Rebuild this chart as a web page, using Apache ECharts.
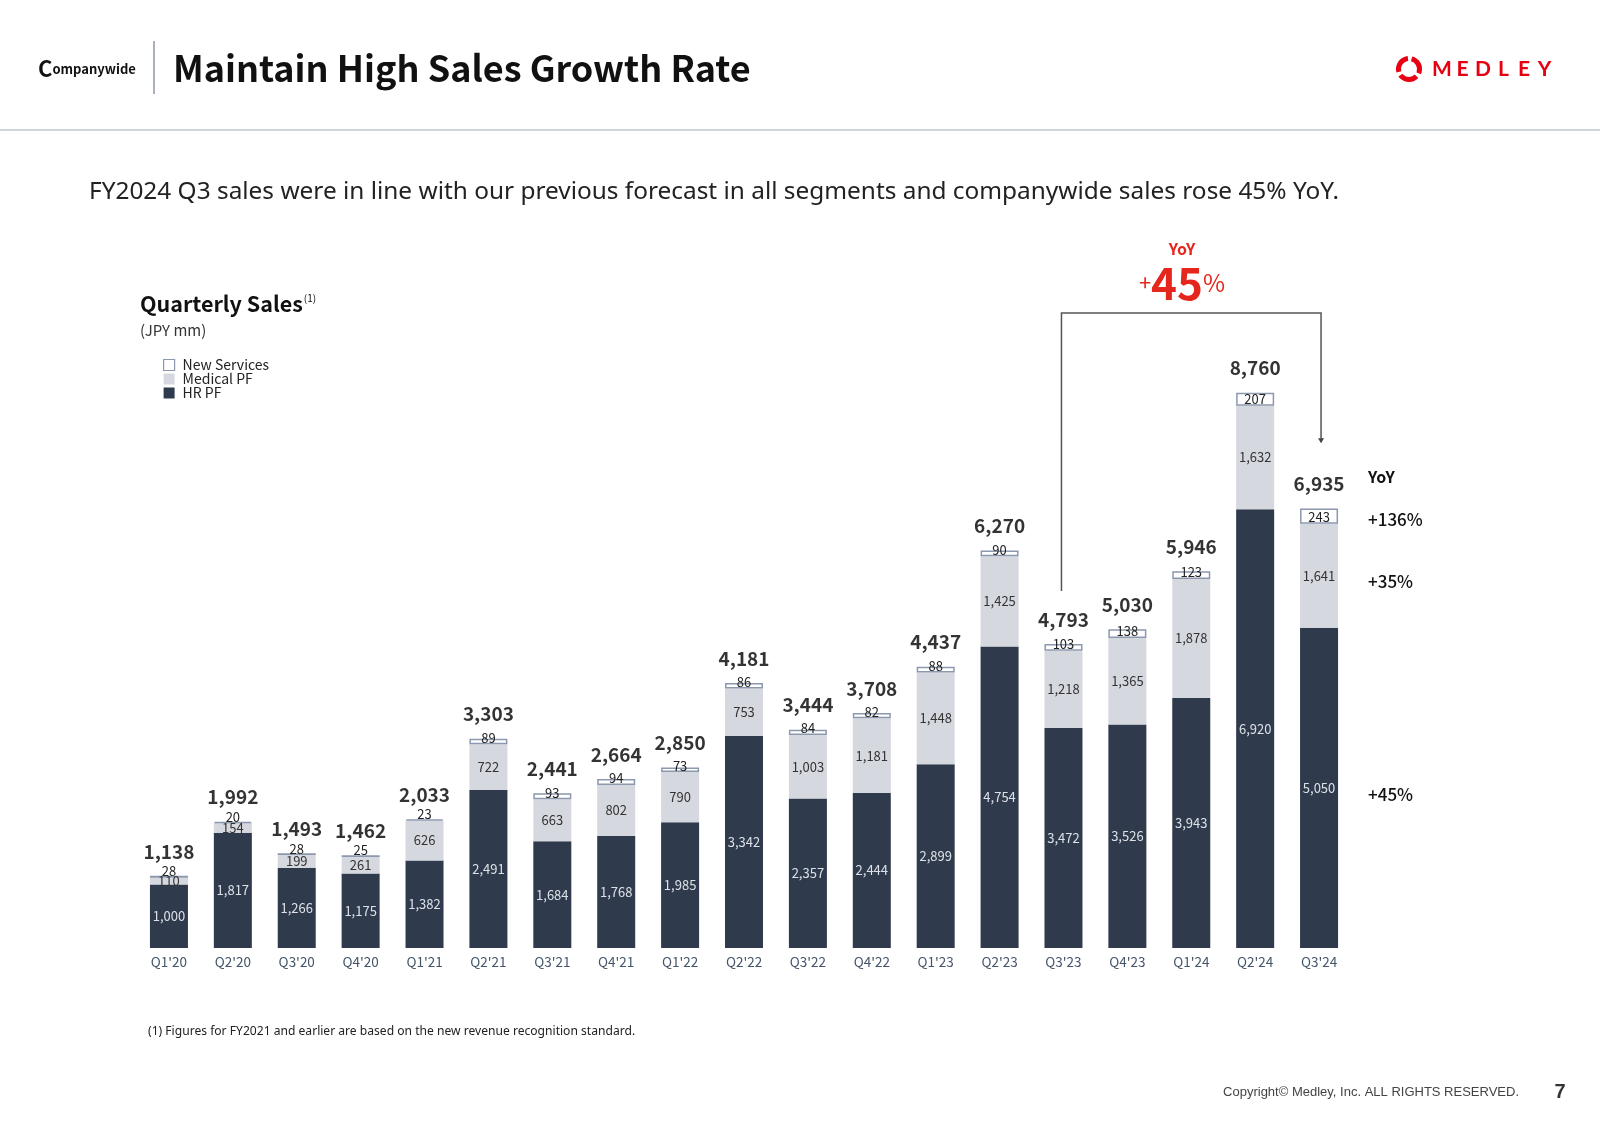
<!DOCTYPE html>
<html><head><meta charset="utf-8">
<script src="https://cdn.jsdelivr.net/npm/echarts@6/dist/echarts.min.js"></script>
<style>html,body{margin:0;padding:0;background:#fff}#c{width:1600px;height:1131px}</style>
</head><body><div id="c"></div>
<script>
const categories = ["Q1'20","Q2'20","Q3'20","Q4'20","Q1'21","Q2'21","Q3'21","Q4'21","Q1'22","Q2'22","Q3'22","Q4'22","Q1'23","Q2'23","Q3'23","Q4'23","Q1'24","Q2'24","Q3'24"];
const hrPF = [1000,1817,1266,1175,1382,2491,1684,1768,1985,3342,2357,2444,2899,4754,3472,3526,3943,6920,5050];
const medicalPF = [110,154,199,261,626,722,663,802,790,753,1003,1181,1448,1425,1218,1365,1878,1632,1641];
const newServices = [28,20,28,25,23,89,93,94,73,86,84,82,88,90,103,138,123,207,243];
const totals = [1138,1992,1493,1462,2033,3303,2441,2664,2850,4181,3444,3708,4437,6270,4793,5030,5946,8760,6935];
const yoySegments = ['+136%','+35%','+45%'];
const yoyHeadline = '45';

const FONT = '"Noto Sans CJK JP","Noto Sans",sans-serif';
const WIDE = '"Noto Sans","Noto Sans CJK JP",sans-serif';
const NAVY = '#2f3a4c', LIGHT = '#d5d8df', NSBORDER = '#8b98ae', RED = '#e5261c';
const fmt = v => Number(v).toLocaleString('en-US');

const chart = echarts.init(document.getElementById('c'));
chart.setOption({
  backgroundColor: '#fff',
  animation: false,
  textStyle: {fontFamily: FONT},
  grid: {left: 137, right: 249, top: 314, bottom: 183},
  xAxis: {type: 'category', data: categories, axisLine: {show: false}, axisTick: {show: false},
    axisLabel: {color: '#44546a', fontSize: 13.5, margin: 7, fontFamily: FONT}},
  yAxis: {type: 'value', min: 0, max: 10000, show: false},
  legend: {
    orient: 'vertical', left: 163, top: 358, itemWidth: 11, itemHeight: 11, itemGap: 0, padding: 0,
    textStyle: {fontSize: 14, color: '#222', fontFamily: FONT, padding: [0,0,0,3], lineHeight: 14},
    data: [
      {name: 'New Services', icon: 'rect', itemStyle: {color: '#fff', borderColor: NSBORDER, borderWidth: 1.2}},
      {name: 'Medical PF', icon: 'rect'},
      {name: 'HR PF', icon: 'rect'}
    ]
  },
  series: [
    {name: 'HR PF', type: 'bar', stack: 's', barWidth: 38, data: hrPF,
      itemStyle: {color: NAVY},
      label: {show: true, position: 'inside', color: '#dde1e8', fontSize: 13, fontFamily: FONT, formatter: p => fmt(p.value)}},
    {name: 'Medical PF', type: 'bar', stack: 's', barWidth: 38, data: medicalPF,
      itemStyle: {color: LIGHT},
      label: {show: true, position: 'inside', color: '#333', fontSize: 13, fontFamily: FONT, formatter: p => fmt(p.value)}},
    {name: 'New Services', type: 'bar', stack: 's', barWidth: 38, data: newServices,
      itemStyle: {color: '#fff', borderColor: NSBORDER, borderWidth: 1.5},
      label: {show: true, position: 'insideBottom', distance: 0, color: '#222', fontSize: 13, fontFamily: FONT, formatter: p => fmt(p.value)}},
    {name: 'Total', type: 'scatter', data: totals, symbolSize: 0, silent: true,
      label: {show: true, position: 'top', distance: 15, color: '#000', fontSize: 19, fontWeight: 'bold', fontFamily: FONT, formatter: p => fmt(p.value)}}
  ]
});

const px = i => chart.convertToPixel({xAxisIndex: 0}, i);
const py = v => chart.convertToPixel({yAxisIndex: 0}, v);
const last = categories.length - 1;
const ref = last - 4;
const lx = px(ref) - 2, rx = px(last) + 2;
const topY = 313;
const leftBottom = py(totals[ref]) - 53;
const arrowY = py(totals[last]) - 66;

const g = [];
// header
g.push({type: 'text', style: {x: 38, y: 69, rich: {C: {fontSize: 22, fontWeight: 'bold', fill: '#111', fontFamily: FONT}, r: {fontSize: 13, fontWeight: 'bold', fill: '#111', fontFamily: FONT}}, text: '{C|C}{r|ompanywide}', verticalAlign: 'middle', align: 'left'}});
g.push({type: 'line', shape: {x1: 154, y1: 41, x2: 154, y2: 94}, style: {stroke: '#8c96a8', lineWidth: 1.5}});
g.push({type: 'text', style: {x: 173, y: 68, text: 'Maintain High Sales Growth Rate', font: 'bold 36px ' + FONT, fill: '#111', verticalAlign: 'middle', align: 'left'}});
g.push({type: 'line', shape: {x1: 0, y1: 130, x2: 1600, y2: 130}, style: {stroke: '#cfd3da', lineWidth: 2}});
// logo
for (let k = 0; k < 3; k++) {
  const a0 = -Math.PI / 2 + k * 2 * Math.PI / 3 + 0.25;
  g.push({type: 'arc', shape: {cx: 1409, cy: 69, r: 10.5, startAngle: a0, endAngle: a0 + 2 * Math.PI / 3 - 0.35}, style: {stroke: '#e60012', lineWidth: 5, fill: null}});
}
const logo = 'MEDLEY';
for (let k = 0; k < logo.length; k++) {
  g.push({type: 'text', style: {x: 1442 + k * 20.5, y: 69, text: logo[k], font: 'bold 21px Lato, "Noto Sans", sans-serif', fill: '#e60012', verticalAlign: 'middle', align: 'center'}});
}
// subtitle
g.push({type: 'text', style: {x: 89, y: 192, text: 'FY2024 Q3 sales were in line with our previous forecast in all segments and companywide sales rose 45% YoY.', font: '24.4px ' + WIDE, fill: '#222', verticalAlign: 'middle', align: 'left'}});
// chart title
g.push({type: 'text', style: {x: 140, y: 304, text: '{a|Quarterly Sales}{s|(1)}', rich: {a: {fontSize: 21.5, fontWeight: 'bold', fill: '#111', fontFamily: FONT}, s: {fontSize: 10, fill: '#111', fontFamily: FONT, verticalAlign: 'top', padding: [0,0,12,1]}}, verticalAlign: 'middle', align: 'left'}});
g.push({type: 'text', style: {x: 140, y: 330, text: '(JPY mm)', font: '15px ' + FONT, fill: '#333', verticalAlign: 'middle', align: 'left'}});
// bracket
g.push({type: 'polyline', shape: {points: [[lx, leftBottom], [lx, topY], [rx, topY], [rx, arrowY - 3]]}, style: {stroke: '#555', lineWidth: 1.5, fill: null}});
g.push({type: 'polygon', shape: {points: [[rx - 3, arrowY - 4], [rx + 3, arrowY - 4], [rx, arrowY + 1]]}, style: {fill: '#444'}});
// YoY headline
g.push({type: 'text', style: {x: 1182, y: 249, text: 'YoY', font: 'bold 16px ' + FONT, fill: RED, verticalAlign: 'middle', align: 'center'}});
g.push({type: 'text', style: {x: 1182, y: 283, text: '{p|+}{n|' + yoyHeadline + '}{q|%}', rich: {p: {fontSize: 22, fill: RED, fontFamily: FONT}, n: {fontSize: 44, fontWeight: 'bold', fill: RED, fontFamily: FONT}, q: {fontSize: 24, fill: RED, fontFamily: FONT}}, verticalAlign: 'middle', align: 'center'}});
// right YoY
g.push({type: 'text', style: {x: 1368, y: 477, text: 'YoY', font: 'bold 16px ' + FONT, fill: '#111', verticalAlign: 'middle', align: 'left'}});
const segMid = [
  py(hrPF[last] + medicalPF[last] + newServices[last] / 2),
  py(hrPF[last] + medicalPF[last] / 2),
  py(hrPF[last] / 2)
];
const segOff = [3, 6, 7];
yoySegments.forEach((t, k) => {
  g.push({type: 'text', style: {x: 1368, y: segMid[k] + segOff[k], text: t, font: '500 17px ' + FONT, fill: '#111', verticalAlign: 'middle', align: 'left'}});
});
// footnote & footer
g.push({type: 'text', style: {x: 148, y: 1032, text: '(1) Figures for FY2021 and earlier are based on the new revenue recognition standard.', font: '12.1px ' + WIDE, fill: '#222', verticalAlign: 'middle', align: 'left'}});
g.push({type: 'text', style: {x: 1519, y: 1092, text: 'Copyright\u00a9 Medley, Inc. ALL RIGHTS RESERVED.', font: '13px "Liberation Sans", Arial, sans-serif', fill: '#444', verticalAlign: 'middle', align: 'right'}});
g.push({type: 'text', style: {x: 1560, y: 1092, text: '7', font: 'bold 20px "Liberation Sans", Arial, sans-serif', fill: '#333', verticalAlign: 'middle', align: 'center'}});

chart.setOption({graphic: g});
</script></body></html>
